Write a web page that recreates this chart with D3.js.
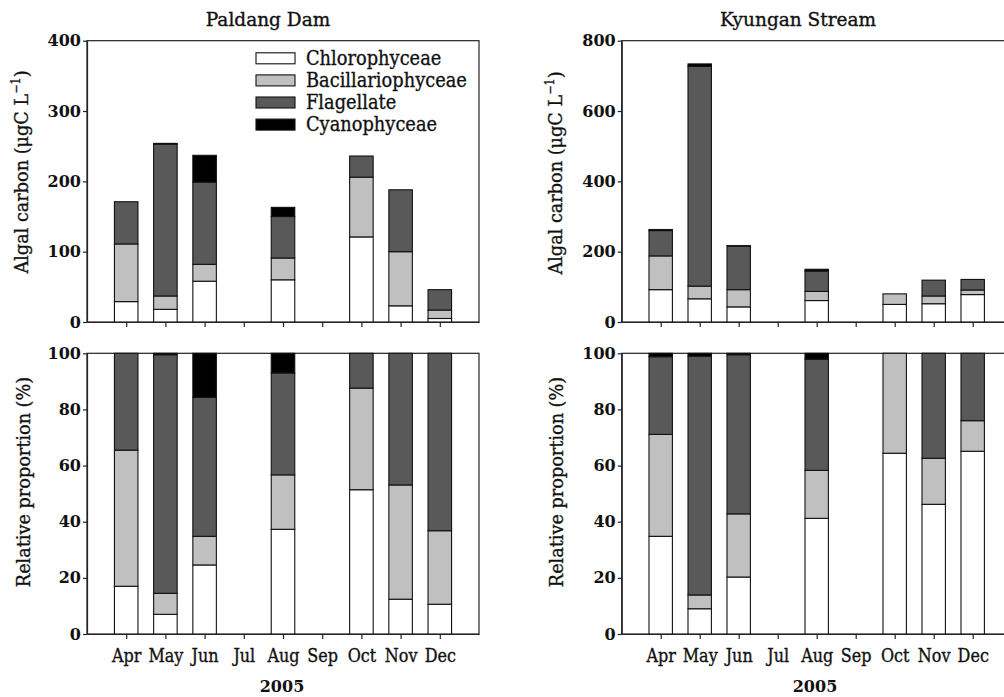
<!DOCTYPE html>
<html>
<head>
<meta charset="utf-8">
<script src="https://cdn.jsdelivr.net/npm/d3@7"></script>
<style>
  body { margin: 0; background: #fff; }
  svg text { font-family: 'DejaVu Serif', serif; fill: #111; }
  /* the original serif is heavier than DejaVu Book */
  svg text.heavy { stroke: #111; stroke-width: 0.35px; }
</style>
</head>
<body>
<svg id="chart"></svg>
<script>
// Sampling months (Jul and Sep were not sampled)
const months = ['Apr', 'May', 'Jun', 'Jul', 'Aug', 'Sep', 'Oct', 'Nov', 'Dec'];
const groups = ['Chlorophyceae', 'Bacillariophyceae', 'Flagellate', 'Cyanophyceae'];
const groupColors = ['#ffffff', '#c0c0c0', '#595959', '#000000'];

// Paldang Dam, algal carbon (ugC/L)
const paldangChl = [29, 18, 58, 0, 60, 0, 121, 23, 5];
const paldangBac = [82, 19, 24, 0, 31, 0, 85, 77, 12];
const paldangFla = [60, 216, 117, 0, 59, 0, 30, 88, 29];
const paldangCya = [0, 1, 38, 0, 13, 0, 0, 0, 0];

// Kyungan Stream, algal carbon (ugC/L)
const kyunganChl = [92, 66, 43, 0, 61, 0, 50, 52, 78];
const kyunganBac = [96, 36, 49, 0, 26, 0, 30, 22, 13];
const kyunganFla = [72, 625, 124, 0, 58, 0, 0, 45, 30];
const kyunganCya = [3, 7, 1, 0, 5, 0, 0, 0, 0];

// Paldang Dam, relative proportion (%)
const paldangChlPct = [17, 7, 24.6, 0, 37.3, 0, 51.4, 12.4, 10.6];
const paldangBacPct = [48.5, 7.5, 10.2, 0, 19.4, 0, 36.2, 40.7, 26.2];
const paldangFlaPct = [34.5, 85, 49.5, 0, 36.3, 0, 12.4, 46.9, 63.2];
const paldangCyaPct = [0, 0.5, 15.7, 0, 7, 0, 0, 0, 0];

// Kyungan Stream, relative proportion (%)
const kyunganChlPct = [34.8, 9, 20.3, 0, 41.2, 0, 64.4, 46.2, 65.1];
const kyunganBacPct = [36.3, 4.9, 22.5, 0, 17.1, 0, 35.6, 16.4, 10.9];
const kyunganFlaPct = [27.7, 85.1, 56.7, 0, 39.6, 0, 0, 37.4, 24];
const kyunganCyaPct = [1.2, 1, 0.5, 0, 2.1, 0, 0, 0, 0];

const carbonTicks = [0, 100, 200, 300, 400];
const carbonTicksK = [0, 200, 400, 600, 800];
const pctTicks = [0, 20, 40, 60, 80, 100];

const width = 1004;
const height = 697;

const svg = d3.select('#chart')
  .attr('width', width)
  .attr('height', height);

/**
 * The original typeface is narrow for its height, so text is drawn
 * larger and then squeezed along its run.
 */
function squeeze(sel, k) {
  sel.each(function () {
    const w = this.getComputedTextLength();
    d3.select(this)
      .attr('textLength', w * k)
      .attr('lengthAdjust', 'spacingAndGlyphs');
  });
}

/**
 * Draws one stacked bar panel.
 */
function drawPanel(cfg) {
  const rows = months.map((m, i) => {
    const row = { month: m };
    groups.forEach((g, k) => { row[g] = cfg.series[k][i]; });
    return row;
  });

  const stacked = d3.stack().keys(groups)(rows);

  const x = d3.scalePoint()
    .domain(months)
    .range([cfg.x0, cfg.x1])
    .padding(1);

  const y = d3.scaleLinear()
    .domain([0, cfg.yMax])
    .range([cfg.yBottom, cfg.yTop]);

  const barWidth = x.step() * 0.6;
  const g = svg.append('g');

  // frame (top and right edges)
  g.append('rect')
    .attr('x', cfg.x0)
    .attr('y', cfg.yTop)
    .attr('width', cfg.x1 - cfg.x0)
    .attr('height', cfg.yBottom - cfg.yTop)
    .attr('fill', 'none')
    .attr('stroke', '#222')
    .attr('stroke-width', 1.2);

  // stacked bars
  g.selectAll('g.layer')
    .data(stacked)
    .enter().append('g')
    .attr('class', 'layer')
    .attr('fill', (d, i) => groupColors[i])
    .selectAll('rect')
    .data(d => d.filter(s => s[1] - s[0] > 0))
    .enter().append('rect')
    .attr('x', d => x(d.data.month) - barWidth / 2)
    .attr('y', d => y(d[1]))
    .attr('width', barWidth)
    .attr('height', d => y(d[0]) - y(d[1]))
    .attr('stroke', '#111')
    .attr('stroke-width', 1.1);

  // y axis
  const yAxis = g.append('g')
    .attr('transform', `translate(${cfg.x0},0)`)
    .call(d3.axisLeft(y).tickValues(cfg.ticks).tickSize(4).tickSizeOuter(0).tickPadding(2));
  yAxis.selectAll('text')
    .style('font-size', '16px')
    .style('font-weight', 'bold');

  // x axis
  const xAxis = g.append('g')
    .attr('transform', `translate(0,${cfg.yBottom})`)
    .call(d3.axisBottom(x).tickSize(5).tickSizeOuter(0).tickPadding(10)
      .tickFormat(cfg.monthLabels ? d => d : () => ''));
  xAxis.selectAll('text')
    .attr('class', 'heavy')
    .style('font-size', '18px')
    .call(squeeze, 0.89);

  g.selectAll('.domain, .tick line')
    .attr('stroke', '#222')
    .attr('stroke-width', 1.2);

  // y axis title
  const title = g.append('text')
    .attr('class', 'heavy')
    .attr('transform', `translate(${cfg.titleX},${cfg.titleY}) rotate(-90) scale(${cfg.titleK},1)`)
    .attr('text-anchor', 'middle')
    .style('font-size', '19px');
  title.append('tspan').text(cfg.yTitle);
  if (cfg.superscript) {
    title.append('tspan').attr('dy', -8).style('font-size', '12px').text('\u22121');
    title.append('tspan').attr('dy', 8).text(')');
  }
}

// Paldang Dam, algal carbon
drawPanel({
  x0: 87, x1: 479, yTop: 40.7, yBottom: 322, yMax: 400, ticks: carbonTicks,
  series: [paldangChl, paldangBac, paldangFla, paldangCya],
  monthLabels: false, yTitle: 'Algal carbon (\u03bcgC L', superscript: true,
  titleX: 28, titleY: 172, titleK: 0.93
});

// Paldang Dam, relative proportion
drawPanel({
  x0: 87, x1: 479, yTop: 353.3, yBottom: 634, yMax: 100, ticks: pctTicks,
  series: [paldangChlPct, paldangBacPct, paldangFlaPct, paldangCyaPct],
  monthLabels: true, yTitle: 'Relative proportion (%)', superscript: false,
  titleX: 30, titleY: 482, titleK: 0.93
});

// Kyungan Stream, algal carbon
drawPanel({
  x0: 621.7, x1: 1011.7, yTop: 40.7, yBottom: 322, yMax: 800, ticks: carbonTicksK,
  series: [kyunganChl, kyunganBac, kyunganFla, kyunganCya],
  monthLabels: false, yTitle: 'Algal carbon (\u03bcgC L', superscript: true,
  titleX: 562, titleY: 173, titleK: 0.93
});

// Kyungan Stream, relative proportion
drawPanel({
  x0: 621.7, x1: 1011.7, yTop: 353.3, yBottom: 634, yMax: 100, ticks: pctTicks,
  series: [kyunganChlPct, kyunganBacPct, kyunganFlaPct, kyunganCyaPct],
  monthLabels: true, yTitle: 'Relative proportion (%)', superscript: false,
  titleX: 563, titleY: 482, titleK: 0.93
});

// Panel titles
svg.append('text').attr('class', 'heavy').attr('x', 268).attr('y', 26).attr('text-anchor', 'middle')
  .style('font-size', '18.5px').text('Paldang Dam');
svg.append('text').attr('class', 'heavy').attr('x', 798).attr('y', 26).attr('text-anchor', 'middle')
  .style('font-size', '18.5px').text('Kyungan Stream');

// x axis titles
svg.append('text').attr('x', 282).attr('y', 692).attr('text-anchor', 'middle')
  .style('font-size', '16px').style('font-weight', 'bold').text('2005');
svg.append('text').attr('x', 815).attr('y', 692).attr('text-anchor', 'middle')
  .style('font-size', '16px').style('font-weight', 'bold').text('2005');

// Legend
const legend = svg.append('g')
  .selectAll('g')
  .data(groups)
  .enter().append('g')
  .attr('transform', (d, i) => `translate(256,${58.3 + i * 22.1})`);

legend.append('rect')
  .attr('x', 0)
  .attr('y', -5.5)
  .attr('width', 39)
  .attr('height', 11)
  .attr('fill', (d, i) => groupColors[i])
  .attr('stroke', '#111')
  .attr('stroke-width', 1.1);

legend.append('text')
  .attr('class', 'heavy')
  .attr('x', 50)
  .attr('y', 6.5)
  .style('font-size', '20px')
  .text(d => d)
  .call(squeeze, 0.89);
</script>
</body>
</html>
